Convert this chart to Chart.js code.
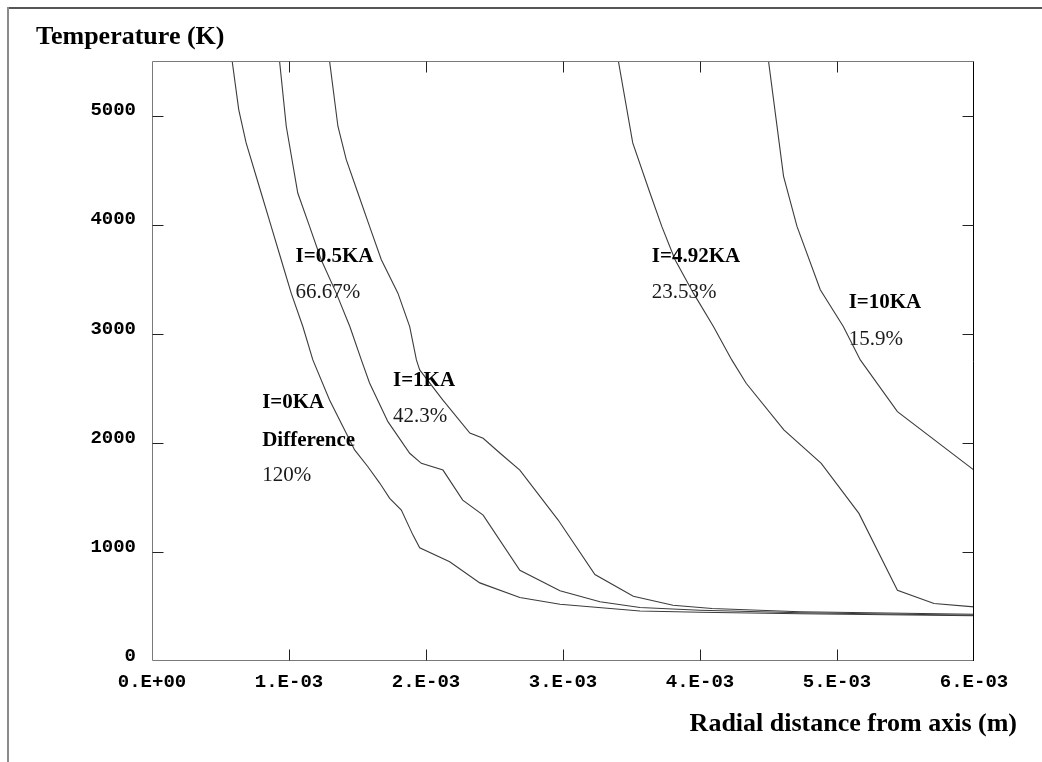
<!DOCTYPE html>
<html>
<head>
<meta charset="utf-8">
<script src="https://cdn.jsdelivr.net/npm/chart.js@4.4.1/dist/chart.umd.min.js"></script>
<style>
html,body{margin:0;padding:0;background:#fff;}
#wrap{position:relative;width:1042px;height:762px;}
canvas{display:block;}
</style>
</head>
<body>
<div id="wrap"><canvas id="c" width="1042" height="762"></canvas></div>
<script>
// ---- tick values and labels ----
const xTickValues = [0, 0.001, 0.002, 0.003, 0.004, 0.005, 0.006];
const xTickLabels = ['0.E+00', '1.E-03', '2.E-03', '3.E-03', '4.E-03', '5.E-03', '6.E-03'];
const yTickValues = [0, 1000, 2000, 3000, 4000, 5000];
const yTickLabels = ['0', '1000', '2000', '3000', '4000', '5000'];

const yAxisTitle = 'Temperature (K)';
const xAxisTitle = 'Radial distance from axis (m)';

// ---- series (radius in m, temperature in K) ----
const r_I0 = [0.585e-3, 0.633e-3, 0.687e-3, 0.797e-3, 0.870e-3, 0.943e-3, 1.016e-3, 1.101e-3, 1.174e-3, 1.296e-3, 1.418e-3, 1.479e-3, 1.576e-3, 1.662e-3, 1.735e-3, 1.820e-3, 1.905e-3, 1.954e-3, 2.173e-3, 2.393e-3, 2.685e-3, 2.978e-3, 3.562e-3, 4.0e-3, 4.73e-3, 6.0e-3];
const T_I0 = [5500, 5055, 4749, 4290, 3984, 3678, 3372, 3066, 2760, 2393, 2087, 1935, 1781, 1631, 1491, 1383, 1154, 1037, 909, 716, 582, 520, 459, 447, 433, 415];

const r_I05 = [0.931e-3, 0.980e-3, 1.064e-3, 1.150e-3, 1.235e-3, 1.345e-3, 1.444e-3, 1.528e-3, 1.588e-3, 1.722e-3, 1.881e-3, 1.966e-3, 2.124e-3, 2.268e-3, 2.417e-3, 2.685e-3, 2.978e-3, 3.270e-3, 3.562e-3, 4.0e-3, 4.73e-3, 6.0e-3];
const T_I05 = [5500, 4902, 4290, 3984, 3678, 3372, 3066, 2760, 2549, 2194, 1904, 1812, 1750, 1475, 1337, 832, 643, 543, 490, 465, 442, 419];

const r_I1 = [1.296e-3, 1.357e-3, 1.418e-3, 1.503e-3, 1.588e-3, 1.674e-3, 1.795e-3, 1.881e-3, 1.930e-3, 1.954e-3, 2.122e-3, 2.320e-3, 2.417e-3, 2.539e-3, 2.685e-3, 2.965e-3, 3.233e-3, 3.513e-3, 3.803e-3, 4.088e-3, 4.73e-3, 6.0e-3];
const T_I1 = [5500, 4902, 4596, 4290, 3984, 3678, 3372, 3066, 2760, 2668, 2393, 2090, 2041, 1907, 1750, 1292, 793, 594, 511, 481, 452, 429];

const r_I492 = [3.404e-3, 3.509e-3, 3.635e-3, 3.721e-3, 3.818e-3, 3.952e-3, 4.098e-3, 4.232e-3, 4.337e-3, 4.612e-3, 4.885e-3, 5.160e-3, 5.441e-3, 5.708e-3, 6.0e-3];
const T_I492 = [5500, 4749, 4290, 3984, 3678, 3372, 3066, 2760, 2546, 2118, 1812, 1353, 649, 527, 496];

const r_I10 = [4.5e-3, 4.610e-3, 4.708e-3, 4.878e-3, 5.046e-3, 5.170e-3, 5.441e-3, 6.0e-3];
const T_I10 = [5500, 4443, 3984, 3403, 3066, 2760, 2286, 1750];

const seriesNames = ['I=0KA', 'I=0.5KA', 'I=1KA', 'I=4.92KA', 'I=10KA'];
const seriesR = [r_I0, r_I05, r_I1, r_I492, r_I10];
const seriesT = [T_I0, T_I05, T_I1, T_I492, T_I10];

// ---- annotation texts ----
const annoTexts = ['I=0.5KA', '66.67%', 'I=1KA', '42.3%', 'I=0KA', 'Difference', '120%', 'I=4.92KA', '23.53%', 'I=10KA', '15.9%'];
const annoBold  = [true, false, true, false, true, true, false, true, false, true, false];
const annoR     = [1.0475e-3, 1.0475e-3, 1.759e-3, 1.759e-3, 0.804e-3, 0.804e-3, 0.804e-3, 3.648e-3, 3.648e-3, 5.085e-3, 5.085e-3];
const annoT     = [3653, 3327, 2521, 2194, 2317, 1971, 1652, 3657, 3332, 3235, 2898];

const datasets = seriesNames.map((name, i) => ({
  label: name,
  data: seriesR[i].map((r, j) => ({x: r, y: seriesT[i][j]})),
  showLine: true,
  borderColor: '#3c3c3c',
  borderWidth: 1.1,
  pointRadius: 0,
  tension: 0,
  fill: false
}));

const framePlugin = {
  id: 'frame',
  beforeDraw(chart) {
    const ctx = chart.ctx;
    ctx.save();
    ctx.fillStyle = '#fff';
    ctx.fillRect(0, 0, chart.width, chart.height);
    // outer frame
    ctx.strokeStyle = '#1e1e1e';
    ctx.lineWidth = 1.5;
    ctx.beginPath(); ctx.moveTo(7, 8); ctx.lineTo(chart.width, 8); ctx.stroke();
    ctx.strokeStyle = '#8a8a8a';
    ctx.lineWidth = 2;
    ctx.beginPath(); ctx.moveTo(8, 7); ctx.lineTo(8, chart.height); ctx.stroke();
    ctx.restore();
  },
  afterDatasetsDraw(chart) {
    const ctx = chart.ctx;
    const a = chart.chartArea;
    const xs = chart.scales.x, ys = chart.scales.y;
    const L = Math.round(a.left) + 0.5, R = Math.round(a.right) - 0.5;
    const T = Math.round(a.top) + 0.5, B = Math.round(a.bottom) - 0.5;
    ctx.save();
    ctx.lineWidth = 1;
    // left, bottom, top in gray
    ctx.strokeStyle = '#7a7a7a';
    ctx.beginPath();
    ctx.moveTo(L, T); ctx.lineTo(L, B); ctx.lineTo(R, B);
    ctx.moveTo(L, T); ctx.lineTo(R, T);
    ctx.stroke();
    // right in black
    ctx.strokeStyle = '#000';
    ctx.beginPath(); ctx.moveTo(R, T); ctx.lineTo(R, B + 0.5); ctx.stroke();
    // inward ticks
    const tl = 11;
    ctx.strokeStyle = '#222';
    ctx.beginPath();
    xTickValues.forEach(v => {
      if (v <= xs.min || v >= xs.max) return;
      const px = Math.round(xs.getPixelForValue(v)) + 0.5;
      ctx.moveTo(px, B); ctx.lineTo(px, B - tl);
      ctx.moveTo(px, T); ctx.lineTo(px, T + tl);
    });
    yTickValues.forEach(v => {
      if (v <= ys.min || v >= ys.max) return;
      const py = Math.round(ys.getPixelForValue(v)) + 0.5;
      ctx.moveTo(L, py); ctx.lineTo(L + tl, py);
      ctx.moveTo(R, py); ctx.lineTo(R - tl, py);
    });
    ctx.stroke();
    ctx.restore();
  },
  afterDraw(chart) {
    const ctx = chart.ctx;
    const xs = chart.scales.x, ys = chart.scales.y;
    ctx.save();
    ctx.fillStyle = '#000';
    ctx.textBaseline = 'alphabetic';
    ctx.font = 'bold 26px "Liberation Serif", "Times New Roman", serif';
    ctx.textAlign = 'left';
    ctx.fillText(yAxisTitle, 36, 44);
    ctx.textAlign = 'right';
    ctx.fillText(xAxisTitle, 1017, 731);
    ctx.textAlign = 'left';
    annoTexts.forEach((t, i) => {
      ctx.font = (annoBold[i] ? 'bold ' : '') + '21px "Liberation Serif", "Times New Roman", serif';
      ctx.fillStyle = annoBold[i] ? '#000' : '#1a1a1a';
      ctx.fillText(t, xs.getPixelForValue(annoR[i]), ys.getPixelForValue(annoT[i]));
    });
    ctx.restore();
  }
};

new Chart(document.getElementById('c'), {
  type: 'scatter',
  data: { datasets },
  plugins: [framePlugin],
  options: {
    responsive: false,
    devicePixelRatio: 1,
    animation: false,
    events: [],
    layout: { padding: { left: 0, top: 61, right: 68, bottom: 61 } },
    plugins: { legend: { display: false }, tooltip: { enabled: false }, title: { display: false } },
    scales: {
      x: {
        type: 'linear', position: 'bottom', min: 0, max: 0.006,
        afterBuildTicks: s => { s.ticks = xTickValues.map(v => ({ value: v })); },
        afterFit: s => { s.height = 40; },
        grid: { display: false, drawTicks: false },
        border: { display: false },
        ticks: {
          autoSkip: false, maxRotation: 0, padding: 10, color: '#000',
          font: { family: '"Liberation Mono", "Courier New", monospace', size: 19, weight: 'bold' },
          callback: (v, i) => xTickLabels[i]
        }
      },
      y: {
        type: 'linear', position: 'left', min: 0, max: 5500,
        afterBuildTicks: s => { s.ticks = yTickValues.map(v => ({ value: v })); },
        afterFit: s => { s.width = 152; },
        grid: { display: false, drawTicks: false },
        border: { display: false },
        ticks: {
          autoSkip: false, padding: 16, color: '#000', labelOffset: -5,
          font: { family: '"Liberation Mono", "Courier New", monospace', size: 19, weight: 'bold' },
          callback: (v, i) => yTickLabels[i]
        }
      }
    }
  }
});
</script>
</body>
</html>
